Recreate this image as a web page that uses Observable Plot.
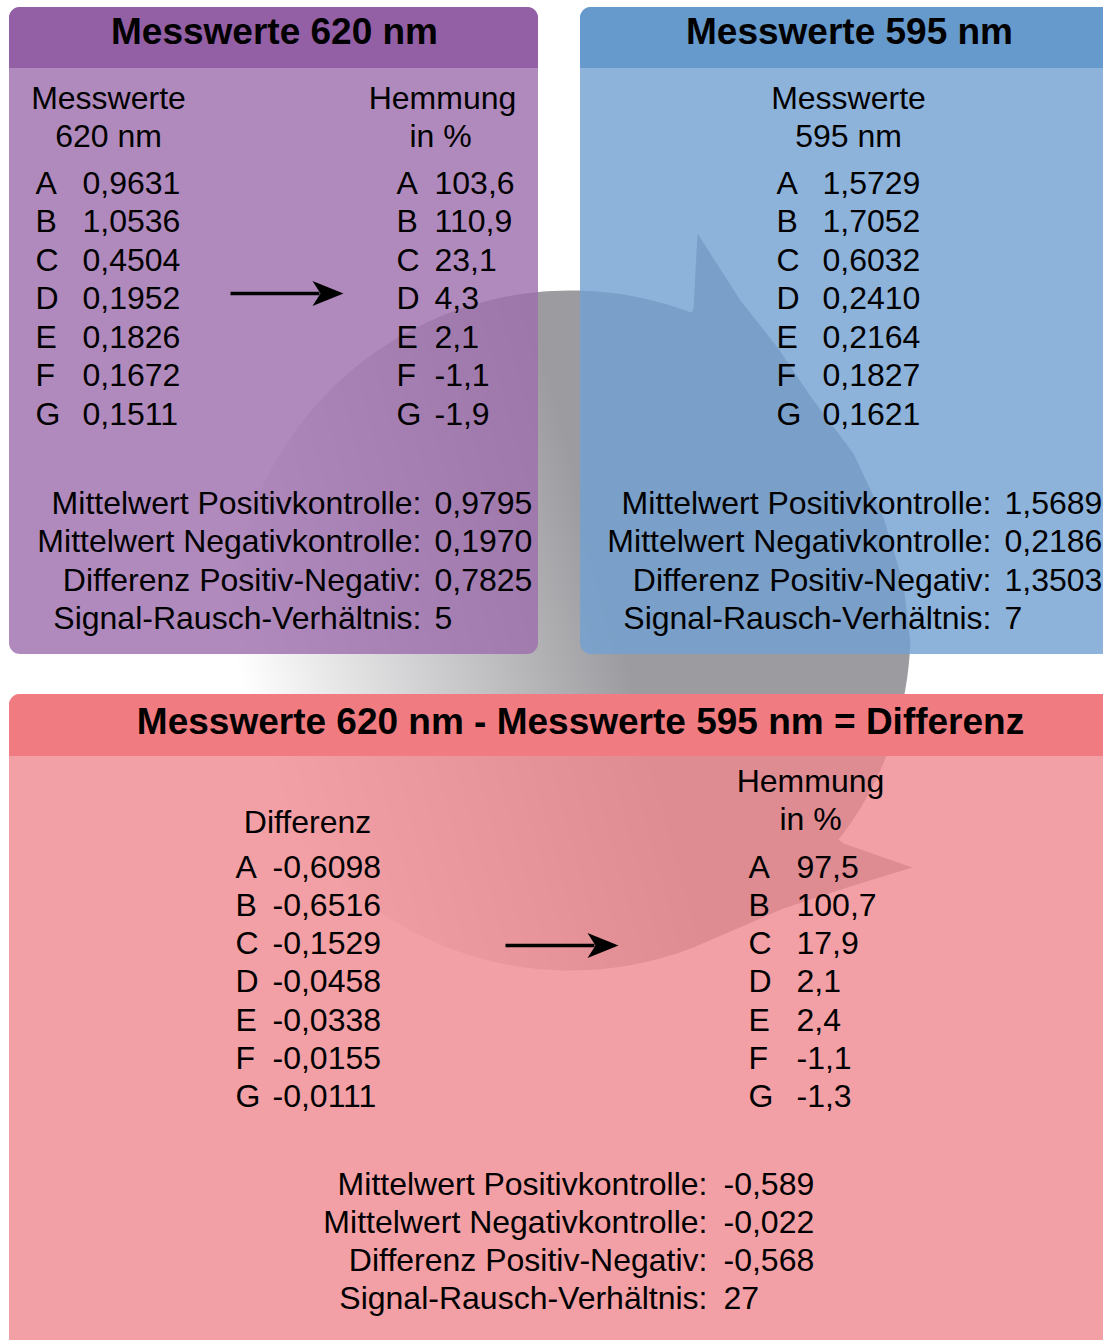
<!DOCTYPE html>
<html>
<head>
<meta charset="utf-8">
<script src="https://cdn.jsdelivr.net/npm/d3@7"></script>
<script src="https://cdn.jsdelivr.net/npm/@observablehq/plot@0.6"></script>
<style>
  html, body { margin: 0; padding: 0; background: #fff; }
  #chart svg { display: block; }
</style>
</head>
<body>
<div id="chart"></div>
<script>
// ---------------- DATA ----------------
const letters = ["A", "B", "C", "D", "E", "F", "G"];
const mess620 = [0.9631, 1.0536, 0.4504, 0.1952, 0.1826, 0.1672, 0.1511];
const hemm620 = [103.6, 110.9, 23.1, 4.3, 2.1, -1.1, -1.9];
const mess595 = [1.5729, 1.7052, 0.6032, 0.2410, 0.2164, 0.1827, 0.1621];
const diffValues = [-0.6098, -0.6516, -0.1529, -0.0458, -0.0338, -0.0155, -0.0111];
const hemmDiff = [97.5, 100.7, 17.9, 2.1, 2.4, -1.1, -1.3];
const statLabels = ["Mittelwert Positivkontrolle:", "Mittelwert Negativkontrolle:", "Differenz Positiv-Negativ:", "Signal-Rausch-Verhältnis:"];
const stats620 = [0.9795, 0.1970, 0.7825, 5];
const stats595 = [1.5689, 0.2186, 1.3503, 7];
const statsDiff = [-0.589, -0.022, -0.568, 27];
const statDecimals4 = [4, 4, 4, 0];
const statDecimals3 = [3, 3, 3, 0];
const panelTitles = ["Messwerte 620 nm", "Messwerte 595 nm", "Messwerte 620 nm - Messwerte 595 nm = Differenz"];

// ---------------- LAYOUT ----------------
const W = 1103, H = 1340;
const FONT = "'Liberation Sans', Arimo, Arial, Helvetica, sans-serif";
const fmt = (v, d) => v.toFixed(d).replace(".", ",");

const panels = [
  {x1: 9,   x2: 538,  y1: 7,   y2: 654,  hy: 68,  head: "#935fa5", body: "#9e6dad"},
  {x1: 580, x2: 1122, y1: 7,   y2: 654,  hy: 68,  head: "#6699cc", body: "#72a0d2"},
  {x1: 9,   x2: 1122, y1: 694, y2: 1362, hy: 756, head: "#f07c81", body: "#ef888e"}
];
const R = 11;
const bodyOpacity = 0.8;

const startTexts = [], middleTexts = [], endTexts = [];
const topRow = i => 193 + i * 38.5;
const botRow = i => 877 + i * 38.33;
letters.forEach((L, i) => {
  const yt = topRow(i), yb = botRow(i);
  startTexts.push({x: 35, y: yt, t: L}, {x: 82, y: yt, t: fmt(mess620[i], 4)});
  startTexts.push({x: 396, y: yt, t: L}, {x: 434, y: yt, t: fmt(hemm620[i], 1)});
  startTexts.push({x: 776, y: yt, t: L}, {x: 822, y: yt, t: fmt(mess595[i], 4)});
  startTexts.push({x: 235, y: yb, t: L}, {x: 272, y: yb, t: fmt(diffValues[i], 4)});
  startTexts.push({x: 748, y: yb, t: L}, {x: 796, y: yb, t: fmt(hemmDiff[i], 1)});
});
statLabels.forEach((s, i) => {
  const yt = 513 + i * 38.5, yb = 1194 + i * 38.33;
  endTexts.push({x: 421, y: yt, t: s});
  startTexts.push({x: 434, y: yt, t: fmt(stats620[i], statDecimals4[i])});
  endTexts.push({x: 991, y: yt, t: s});
  startTexts.push({x: 1004, y: yt, t: fmt(stats595[i], statDecimals4[i])});
  endTexts.push({x: 707, y: yb, t: s});
  startTexts.push({x: 723, y: yb, t: fmt(statsDiff[i], statDecimals3[i])});
});
middleTexts.push(
  {x: 108, y: 108, t: "Messwerte"}, {x: 108, y: 146, t: "620 nm"},
  {x: 442, y: 108, t: "Hemmung"}, {x: 440, y: 146, t: "in %"},
  {x: 848, y: 108, t: "Messwerte"}, {x: 848, y: 146, t: "595 nm"},
  {x: 307, y: 832, t: "Differenz"},
  {x: 810, y: 791, t: "Hemmung"}, {x: 810, y: 829, t: "in %"}
);
const titles = [
  {x: 274, y: 43, t: panelTitles[0]},
  {x: 849, y: 43, t: panelTitles[1]},
  {x: 580, y: 733, t: panelTitles[2]}
];

// arrows between columns
const arrows = [{id: 0, x1: 230, x2: 343, y: 293}, {id: 1, x1: 505, x2: 618, y: 945}];
const heads = arrows.flatMap(a => [
  {id: a.id, x: a.x2, y: a.y},
  {id: a.id, x: a.x2 - 31, y: a.y - 12.5},
  {id: a.id, x: a.x2 - 23, y: a.y},
  {id: a.id, x: a.x2 - 31, y: a.y + 12.5}
]);

// decorative circular arrow behind the panels (geometry)
const cx = 570, cy = 630, cr = 340;
const deg = Math.PI / 180;
const shape = [];
for (let a = -69.1; a >= -292.5; a -= 1.5) shape.push({x: cx + cr * Math.cos(a * deg), y: cy + cr * Math.sin(a * deg)});
shape.push({x: 783, y: 908}, {x: 850, y: 886}, {x: 912, y: 867}, {x: 843, y: 843});
for (let a = 38; a >= 2; a -= 2) shape.push({x: cx + cr * Math.cos(a * deg), y: cy + cr * Math.sin(a * deg)});
shape.push({x: 903, y: 583}, {x: 883, y: 517}, {x: 853, y: 453}, {x: 813, y: 400}, {x: 777, y: 347}, {x: 740, y: 300}, {x: 697, y: 233}, {x: 693, y: 308});

const defsMark = () => {
  const defs = d3.create("svg:defs");
  const g = defs.append("linearGradient").attr("id", "grayGrad")
    .attr("gradientUnits", "userSpaceOnUse")
    .attr("x1", 245).attr("y1", 700).attr("x2", 610).attr("y2", 600);
  g.append("stop").attr("offset", 0).attr("stop-color", "#ffffff");
  g.append("stop").attr("offset", 1).attr("stop-color", "#9c9ca0");
  return defs.node();
};

const textOpts = (anchor) => ({x: "x", y: "y", text: "t", textAnchor: anchor, lineAnchor: "bottom", fontSize: 32, fontFamily: FONT, fill: "#000"});

const chart = Plot.plot({
  width: W, height: H, margin: 0,
  x: {domain: [0, W], range: [0, W], axis: null},
  y: {domain: [0, H], range: [0, H], axis: null},
  style: {background: "white"},
  marks: [
    defsMark,
    Plot.line(shape, {x: "x", y: "y", fill: "url(#grayGrad)", stroke: "none", curve: "linear-closed"}),
    Plot.rect(panels, {x1: "x1", x2: "x2", y1: "y1", y2: "y2", fill: "body", fillOpacity: bodyOpacity, rx: R, ry: R}),
    Plot.rect(panels, {x1: "x1", x2: "x2", y1: "y1", y2: "hy", fill: "head", rx: R, ry: R}),
    Plot.rect(panels, {x1: "x1", x2: "x2", y1: d => d.y1 + 20, y2: "hy", fill: "head"}),
    Plot.link(arrows, {x1: "x1", x2: d => d.x2 - 24, y1: "y", y2: "y", stroke: "#000", strokeWidth: 3.5}),
    Plot.line(heads, {x: "x", y: "y", z: "id", fill: "#000", stroke: "none", curve: "linear-closed"}),
    Plot.text(startTexts, textOpts("start")),
    Plot.text(middleTexts, textOpts("middle")),
    Plot.text(endTexts, textOpts("end")),
    Plot.text(titles, {...textOpts("middle"), fontSize: 37, fontWeight: "bold"})
  ]
});
chart.setAttribute("fill", "none");
document.getElementById("chart").append(chart);
</script>
</body>
</html>
